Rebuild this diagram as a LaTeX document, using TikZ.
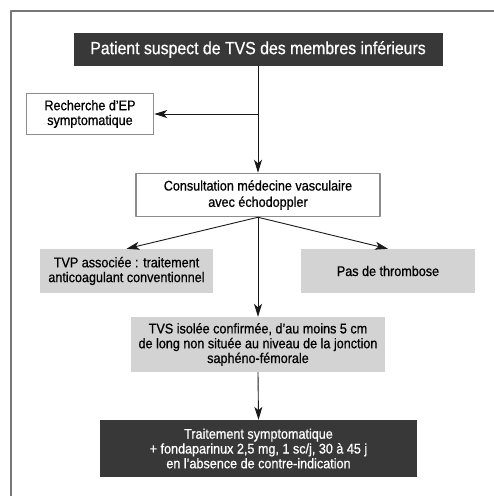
\documentclass[tikz,border=0pt]{standalone}
\usepackage{fontspec}
\setmainfont{Liberation Sans}[FakeStretch=0.9, FakeBold=0.7]
\usetikzlibrary{arrows.meta}
\definecolor{fonce}{HTML}{383838}
\definecolor{clair}{HTML}{D3D3D3}
\definecolor{trait}{HTML}{8C8C8C}
\begin{document}
\begin{tikzpicture}[x=1pt, y=-1pt, line join=round, >={Stealth[length=13pt,width=8pt,inset=3.5pt]},
	every node/.style={font=\fontsize{14}{14.8}\selectfont, align=center, inner sep=0pt},
	sombre/.style={fill=fonce, text=white},
	gris/.style={fill=clair},
	blanc/.style={draw=trait, line width=1.5pt, fill=white},
	fleche/.style={->, draw=black!90, line width=.9pt}]
	\useasboundingbox (0,0) rectangle (494,496);
	\draw[trait!85!black, line width=2pt] (11,496) -- (11,11) -- (494,11);
	\node[sombre, minimum width=369, minimum height=33, font=\fontsize{17.6}{20}\selectfont] (patient) at (258,49.5) {Patient suspect de TVS des membres inférieurs};
	\node[blanc, minimum width=127, minimum height=41] (recherche) at (90,114) {Recherche d’EP\\symptomatique};
	\node[blanc, minimum width=244, minimum height=43] (consult) at (258,195) {Consultation médecine vasculaire\\[1.5pt]avec échodoppler};
	\node[gris, minimum width=173, minimum height=44] (tvp) at (126.5,271) {TVP associée : traitement\\anticoagulant conventionnel};
	\node[gris, minimum width=174, minimum height=44] (pas) at (388,271) {Pas de thrombose};
	\node[gris, minimum width=254, minimum height=55] (tvs) at (258,344.5) {TVS isolée confirmée, d’au moins 5 cm\\de long non située au niveau de la jonction\\saphéno-fémorale};
	\node[sombre, minimum width=317, minimum height=57] (traitement) at (258.5,448.5) {Traitement symptomatique\\+ fondaparinux 2,5 mg, 1 sc/j, 30 à 45 j\\en l’absence de contre-indication};
	\coordinate (embr) at (patient.south |- recherche.east);
	\draw[fleche] (patient.south) -- (consult.north);
	\draw[fleche] (embr) -- (recherche.east);
	\draw[fleche] (consult.south) -- (tvp.north);
	\draw[fleche] (consult.south) -- (pas.north);
	\draw[fleche] (consult.south) -- (tvs.north);
	\draw[fleche] (tvs.south) -- (traitement.north);
\end{tikzpicture}
\end{document}
